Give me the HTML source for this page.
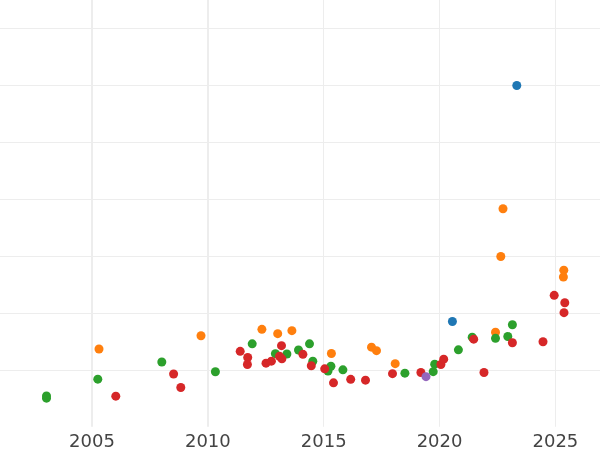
<!DOCTYPE html>
<html><head><meta charset="utf-8"><title>chart</title>
<style>html,body{margin:0;padding:0;background:#fff;}svg{display:block;}text{font-family:"DejaVu Sans","Liberation Sans",sans-serif;font-size:18px;fill:#444;}</style></head><body>
<svg width="600" height="450" viewBox="0 0 600 450">
<rect width="600" height="450" fill="#fff"/>
<g fill="#ededed" shape-rendering="crispEdges">
<rect x="91" y="0" width="2" height="426"/>
<rect x="91" y="426" width="2" height="1" opacity="0.8"/>
<rect x="207" y="0" width="2" height="426"/>
<rect x="207" y="426" width="2" height="1" opacity="0.8"/>
<rect x="323" y="0" width="1" height="426"/>
<rect x="323" y="426" width="1" height="1" opacity="0.8"/>
<rect x="439" y="0" width="1" height="426"/>
<rect x="439" y="426" width="1" height="1" opacity="0.8"/>
<rect x="555" y="0" width="1" height="426"/>
<rect x="555" y="426" width="1" height="1" opacity="0.8"/>
<rect x="0" y="28" width="600" height="1"/>
<rect x="0" y="85" width="600" height="1"/>
<rect x="0" y="142" width="600" height="1"/>
<rect x="0" y="199" width="600" height="1"/>
<rect x="0" y="256" width="600" height="1"/>
<rect x="0" y="313" width="600" height="1"/>
<rect x="0" y="370" width="600" height="1"/>
</g>
<g fill="#1f77b4">
<circle cx="452.4" cy="321.45" r="4.5"/>
<circle cx="516.8" cy="85.55" r="4.5"/>
</g>
<g fill="#ff7f0e">
<circle cx="99.0" cy="348.95" r="4.5"/>
<circle cx="201.0" cy="335.75" r="4.5"/>
<circle cx="261.9" cy="329.35" r="4.5"/>
<circle cx="277.7" cy="333.65" r="4.5"/>
<circle cx="291.9" cy="330.65" r="4.5"/>
<circle cx="331.4" cy="353.45" r="4.5"/>
<circle cx="371.5" cy="347.15" r="4.5"/>
<circle cx="376.5" cy="350.65" r="4.5"/>
<circle cx="395.2" cy="363.65" r="4.5"/>
<circle cx="495.5" cy="332.25" r="4.5"/>
<circle cx="500.8" cy="256.55" r="4.5"/>
<circle cx="503.0" cy="208.75" r="4.5"/>
<circle cx="563.8" cy="270.15" r="4.5"/>
<circle cx="563.4" cy="276.95" r="4.5"/>
</g>
<g fill="#2ca02c">
<circle cx="46.5" cy="395.95" r="4.5"/>
<circle cx="46.5" cy="398.15" r="4.5"/>
<circle cx="97.8" cy="379.15" r="4.5"/>
<circle cx="161.8" cy="361.95" r="4.5"/>
<circle cx="215.4" cy="371.75" r="4.5"/>
<circle cx="252.2" cy="343.85" r="4.5"/>
<circle cx="275.4" cy="353.65" r="4.5"/>
<circle cx="286.9" cy="353.95" r="4.5"/>
<circle cx="298.5" cy="349.95" r="4.5"/>
<circle cx="309.5" cy="343.85" r="4.5"/>
<circle cx="312.8" cy="361.25" r="4.5"/>
<circle cx="330.9" cy="366.25" r="4.5"/>
<circle cx="328.0" cy="371.05" r="4.5"/>
<circle cx="342.9" cy="369.85" r="4.5"/>
<circle cx="404.9" cy="373.15" r="4.5"/>
<circle cx="433.2" cy="371.65" r="4.5"/>
<circle cx="434.7" cy="364.15" r="4.5"/>
<circle cx="458.4" cy="349.85" r="4.5"/>
<circle cx="472.2" cy="337.15" r="4.5"/>
<circle cx="495.5" cy="338.35" r="4.5"/>
<circle cx="507.8" cy="336.55" r="4.5"/>
<circle cx="512.4" cy="324.75" r="4.5"/>
</g>
<g fill="#d62728">
<circle cx="115.8" cy="396.15" r="4.5"/>
<circle cx="173.6" cy="373.95" r="4.5"/>
<circle cx="180.8" cy="387.55" r="4.5"/>
<circle cx="240.2" cy="351.35" r="4.5"/>
<circle cx="247.7" cy="357.55" r="4.5"/>
<circle cx="247.4" cy="364.45" r="4.5"/>
<circle cx="266.0" cy="363.15" r="4.5"/>
<circle cx="271.4" cy="361.15" r="4.5"/>
<circle cx="281.5" cy="345.65" r="4.5"/>
<circle cx="279.5" cy="356.35" r="4.5"/>
<circle cx="281.9" cy="358.85" r="4.5"/>
<circle cx="302.9" cy="354.35" r="4.5"/>
<circle cx="311.3" cy="365.75" r="4.5"/>
<circle cx="324.7" cy="368.85" r="4.5"/>
<circle cx="333.5" cy="382.85" r="4.5"/>
<circle cx="350.7" cy="379.35" r="4.5"/>
<circle cx="365.5" cy="380.15" r="4.5"/>
<circle cx="392.5" cy="373.65" r="4.5"/>
<circle cx="420.9" cy="372.45" r="4.5"/>
<circle cx="440.9" cy="364.45" r="4.5"/>
<circle cx="443.7" cy="359.15" r="4.5"/>
<circle cx="473.7" cy="339.15" r="4.5"/>
<circle cx="484.0" cy="372.45" r="4.5"/>
<circle cx="512.4" cy="342.75" r="4.5"/>
<circle cx="543.0" cy="341.75" r="4.5"/>
<circle cx="554.2" cy="295.35" r="4.5"/>
<circle cx="564.8" cy="302.75" r="4.5"/>
<circle cx="564.0" cy="312.65" r="4.5"/>
</g>
<g fill="#9467bd">
<circle cx="426.0" cy="376.65" r="4.5"/>
</g>
<g text-anchor="middle">
<text x="92.0" y="446.7">2005</text>
<text x="207.85" y="446.7">2010</text>
<text x="323.7" y="446.7">2015</text>
<text x="439.55" y="446.7">2020</text>
<text x="555.4" y="446.7">2025</text>
</g></svg></body></html>
